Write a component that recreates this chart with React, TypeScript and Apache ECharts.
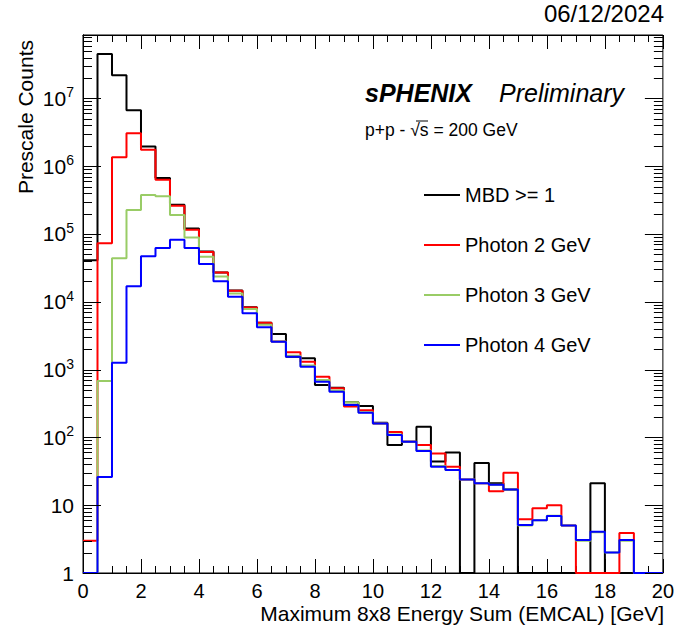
import React, { useEffect, useRef } from "react";
import * as echarts from "echarts";

const X_MIN = 0;
const X_MAX = 20;
const BIN_WIDTH = 0.5;
const Y_MIN = 1;
const Y_MAX = 8.6e7;

const binLowEdges: number[] = Array.from({ length: 40 }, (_, i) => X_MIN + i * BIN_WIDTH);

const seriesNames = ["MBD >= 1", "Photon 2 GeV", "Photon 3 GeV", "Photon 4 GeV"];
const seriesColors = ["#000000", "#ff0000", "#99cc66", "#0000ff"];

const mbdCounts = [
  4.1e4, 4.5e7, 2.2e7, 6.7e6, 1.95e6, 6.7e5, 2.7e5, 1.2e5, 5.5e4, 2.7e4,
  1.47e4, 8.3e3, 4.9e3, 3.35e3, 1.55e3, 1.47e3, 590, 540, 330, 290,
  165, 77, 86, 144, 44, 60, 0, 42, 21, 17,
  0, 0, 0, 0, 0, 21, 0, 0, 0, 0,
];
const photon2Counts = [
  3, 7.3e4, 1.35e6, 3.05e6, 1.74e6, 6.3e5, 2.6e5, 1.15e5, 5.4e4, 2.7e4,
  1.45e4, 8.2e3, 4.9e3, 2.6e3, 1.8e3, 1.3e3, 785, 530, 285, 252,
  160, 120, 86, 77, 58, 37, 24, 21, 16, 30,
  6.2, 9, 10, 5, 0, 0, 0, 3.9, 0, 0,
];
const photon3Counts = [
  0, 680, 4.4e4, 2.26e5, 3.76e5, 3.6e5, 1.9e5, 8.9e4, 4.6e4, 2.35e4,
  1.33e4, 7.8e3, 4.6e3, 2.6e3, 1.6e3, 1.15e3, 700, 490, 330, 235,
  160, 110, 86, 64, 38, 33, 24, 21, 20, 17,
  5, 6, 7, 5, 3, 4, 2, 3, 0, 0,
];
const photon4Counts = [
  0, 26, 1.26e3, 1.7e4, 4.7e4, 6.2e4, 8.2e4, 6.2e4, 3.6e4, 2.0e4,
  1.19e4, 6.8e3, 4.2e3, 2.57e3, 1.55e3, 1.1e3, 660, 470, 300, 230,
  160, 108, 86, 63, 37, 33, 24, 21, 20, 17,
  5.1, 6.0, 6.9, 5.0, 3.07, 4.07, 2.0, 3.07, 0, 0,
];

const yDecades = [1, 10, 1e2, 1e3, 1e4, 1e5, 1e6, 1e7];
const minorMultipliers = [2, 3, 4, 5, 6, 7, 8, 9];

const FONT = "'Liberation Sans', Arial, Helvetica, sans-serif";
const LEGEND_ICON = "path://M0,0H36V2H0Z";

function toSteps(vals: number[]): number[][] {
  const pts = vals.map((v, i) => [binLowEdges[i], v > 0 ? v : Y_MIN]);
  const last = vals[vals.length - 1];
  pts.push([X_MAX, last > 0 ? last : Y_MIN]);
  return pts;
}

function tickSeries(name: string, values: number[], len: number) {
  return {
    type: "custom",
    name,
    xAxisIndex: 0,
    yAxisIndex: 0,
    silent: true,
    z: 20,
    data: values.map((v) => [X_MIN, v]),
    renderItem: (_params: any, api: any) => {
      const v = api.value(1);
      const pl = api.coord([X_MIN, v]);
      const pr = api.coord([X_MAX, v]);
      const yl = Math.round(pl[1]) + 0.5;
      const yr = Math.round(pr[1]) + 0.5;
      return {
        type: "group",
        children: [
          {
            type: "line",
            shape: { x1: pl[0], y1: yl, x2: pl[0] + len, y2: yl },
            style: { stroke: "#000", lineWidth: 1 },
          },
          {
            type: "line",
            shape: { x1: pr[0] - len, y1: yr, x2: pr[0], y2: yr },
            style: { stroke: "#000", lineWidth: 1 },
          },
        ],
      };
    },
  };
}

export default function App() {
  const ref = useRef<HTMLDivElement>(null);
  useEffect(() => {
    document.body.style.margin = "0";
    if (!ref.current) return;
    const chart = echarts.init(ref.current, undefined, { renderer: "svg" });
    const allCounts = [mbdCounts, photon2Counts, photon3Counts, photon4Counts];

    const minorVals: number[] = [];
    yDecades.forEach((d) =>
      minorMultipliers.forEach((m) => {
        if (d * m < Y_MAX) minorVals.push(d * m);
      })
    );

    const yLabelFormatter = (v: number) => {
      const e = Math.round(Math.log10(v));
      if (Math.abs(v - Math.pow(10, e)) / Math.pow(10, e) > 1e-6) return "";
      if (e === 0) return "1";
      if (e === 1) return "10";
      return "{b|10}{s|" + e + "}";
    };

    const xAxisCommon = {
      type: "value",
      min: X_MIN,
      max: X_MAX,
      interval: 2,
      axisLine: { show: true, lineStyle: { color: "#000", width: 1 } },
      axisTick: { show: true, inside: true, length: 14, lineStyle: { color: "#000", width: 1 } },
      minorTick: { show: true, splitNumber: 4, length: 7, lineStyle: { color: "#000", width: 1 } },
      splitLine: { show: false },
    };
    const yAxisCommon = {
      type: "log",
      logBase: 10,
      min: Y_MIN,
      max: Y_MAX,
      axisLine: { show: true, lineStyle: { color: "#000", width: 1 } },
      axisTick: { show: false },
      splitLine: { show: false },
    };

    const option: any = {
      animation: false,
      grid: {
        left: 83,
        right: 12,
        top: 35,
        bottom: 52,
        show: true,
        borderColor: "#000",
        borderWidth: 1,
        backgroundColor: "transparent",
      },
      xAxis: [
        {
          ...xAxisCommon,
          position: "bottom",
          axisLabel: {
            show: true,
            color: "#000",
            fontSize: 20,
            fontFamily: FONT,
            margin: 8,
          },
        },
        {
          ...xAxisCommon,
          position: "top",
          axisLabel: { show: false },
        },
      ],
      yAxis: [
        {
          ...yAxisCommon,
          position: "left",
          axisLabel: {
            show: true,
            color: "#000",
            fontSize: 21,
            fontFamily: FONT,
            margin: 9,
            formatter: yLabelFormatter,
            rich: {
              b: { fontSize: 21, fontFamily: FONT, color: "#000", lineHeight: 26 },
              s: { fontSize: 14, fontFamily: FONT, color: "#000", verticalAlign: "top", lineHeight: 14 },
            },
          },
        },
        {
          ...yAxisCommon,
          position: "right",
          axisLabel: { show: false },
        },
      ],
      legend: {
        data: seriesNames.map((n) => ({ name: n, icon: LEGEND_ICON })),
        orient: "vertical",
        left: 424,
        top: 185,
        padding: 0,
        itemWidth: 36,
        itemHeight: 20,
        itemGap: 30,
        symbolKeepAspect: true,
        textStyle: { fontSize: 20, fontFamily: FONT, color: "#000", lineHeight: 20 },
      },
      series: [
        ...allCounts.map((vals, i) => ({
          name: seriesNames[i],
          type: "line",
          step: "end",
          data: toSteps(vals),
          xAxisIndex: 0,
          yAxisIndex: 0,
          symbol: "none",
          showSymbol: false,
          clip: false,
          lineStyle: { color: seriesColors[i], width: 2 },
          itemStyle: { color: seriesColors[i] },
          z: 2 + i,
        })),
        tickSeries("yMajorTicks", yDecades, 18),
        tickSeries("yMinorTicks", minorVals, 9),
      ],
      graphic: [
        {
          type: "text",
          x: 664,
          y: 13,
          style: {
            text: "06/12/2024",
            fontSize: 24,
            fontFamily: FONT,
            fill: "#000",
            align: "right",
            verticalAlign: "middle",
          },
        },
        {
          type: "text",
          x: 365,
          y: 93,
          style: {
            text: "sPHENIX",
            fontSize: 25,
            fontWeight: "bold",
            fontStyle: "italic",
            fontFamily: FONT,
            fill: "#000",
            align: "left",
            verticalAlign: "middle",
          },
        },
        {
          type: "text",
          x: 499,
          y: 93,
          style: {
            text: "Preliminary",
            fontSize: 25,
            fontStyle: "italic",
            fontFamily: FONT,
            fill: "#000",
            align: "left",
            verticalAlign: "middle",
          },
        },
        {
          type: "text",
          x: 365,
          y: 130,
          style: {
            text: "p+p - √s = 200 GeV",
            fontSize: 17.5,
            fontFamily: FONT,
            fill: "#000",
            align: "left",
            verticalAlign: "middle",
          },
        },
        {
          type: "line",
          shape: { x1: 416, y1: 121, x2: 428, y2: 121 },
          style: { stroke: "#000", lineWidth: 1 },
        },
        {
          type: "text",
          x: 664,
          y: 613,
          style: {
            text: "Maximum 8x8 Energy Sum (EMCAL) [GeV]",
            fontSize: 21,
            fontFamily: FONT,
            fill: "#000",
            align: "right",
            verticalAlign: "middle",
          },
        },
        {
          type: "text",
          x: 25.5,
          y: 40,
          rotation: Math.PI / 2,
          style: {
            text: "Prescale Counts",
            fontSize: 21,
            fontFamily: FONT,
            fill: "#000",
            align: "right",
            verticalAlign: "middle",
          },
        },
      ],
    };
    chart.setOption(option);
    return () => chart.dispose();
  }, []);
  return <div ref={ref} style={{ width: 677, height: 625 }} />;
}
